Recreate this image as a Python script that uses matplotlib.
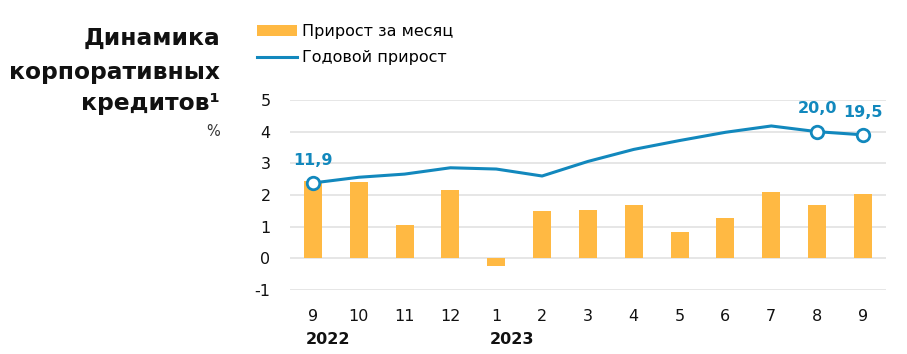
import matplotlib
matplotlib.use('Agg')
import matplotlib.pyplot as plt
from matplotlib.patches import Patch
from matplotlib.lines import Line2D
import matplotlib.transforms as mtransforms

plt.rcParams['font.family'] = ['DejaVu Sans']
plt.rcParams['axes.unicode_minus'] = False

# данные
months = ['9', '10', '11', '12', '1', '2', '3', '4', '5', '6', '7', '8', '9']
monthly = [2.45, 2.42, 1.05, 2.17, -0.25, 1.49, 1.54, 1.68, 0.83, 1.28, 2.10, 1.69, 2.03]
annual = [11.9, 12.8, 13.3, 14.3, 14.1, 13.0, 15.3, 17.2, 18.6, 19.9, 20.9, 20.0, 19.5]
labeled = {0: '11,9', 11: '20,0', 12: '19,5'}
years = [(0, '2022'), (4, '2023')]

BAR = '#FFB943'
BLUE = '#1288BD'

fig = plt.figure(figsize=(9.07, 3.54), dpi=100)
ax = fig.add_axes([0.3197, 0.1808, 0.657, 0.5367])

x = list(range(len(months)))
ax.bar(x, monthly, width=0.39, color=BAR, zorder=2)

# годовой прирост в масштабе левой оси (1 деление = 5 п.п.)
line_y = [v / 5 for v in annual]
ax.plot(x, line_y, color=BLUE, lw=2.2, zorder=3)
for i, txt in labeled.items():
    ax.plot(i, line_y[i], 'o', ms=9, mfc='white', mec=BLUE, mew=2, zorder=4)
    ax.annotate(txt, (i, line_y[i]), xytext=(0, 11), textcoords='offset points',
                ha='center', va='bottom', color=BLUE, fontsize=11.5, fontweight='bold')

ax.set_xlim(-0.5, 12.5)
ax.set_ylim(-1, 5)
ax.set_yticks(range(-1, 6))
ax.set_xticks(x)
ax.set_xticklabels(months)
ax.yaxis.grid(True, color='#e2e2e2', lw=1.2, zorder=0)
for s in ax.spines.values():
    s.set_visible(False)
ax.tick_params(axis='both', length=0, labelsize=11.5, colors='#111111')
ax.tick_params(axis='y', pad=14)
ax.tick_params(axis='x', pad=14)

trans = mtransforms.blended_transform_factory(ax.transData, fig.transFigure)
for i, yr in years:
    ax.text(i - 0.15, 1 - 340 / 354, yr, transform=trans, ha='left', va='center',
            fontsize=11.5, fontweight='bold', color='#111111')

# заголовок
for yy, line in [(38, 'Динамика'), (72, 'корпоративных'), (104, 'кредитов¹')]:
    fig.text(220 / 907, 1 - yy / 354, line, ha='right', va='center',
             fontsize=16.8, fontweight='bold', color='#111111')
fig.text(220 / 907, 1 - 131 / 354, '%', ha='right', va='center',
         fontsize=10.5, color='#333333')

# легенда
handles = [Patch(facecolor=BAR, edgecolor='none'),
           Line2D([], [], color=BLUE, lw=2.2)]
fig.legend(handles, ['Прирост за месяц', 'Годовой прирост'],
           loc='upper left', bbox_to_anchor=(257 / 907, 1 - 24 / 354),
           frameon=False, fontsize=11.5, handlelength=2.5, handletextpad=0.3,
           labelspacing=0.7, borderaxespad=0, borderpad=0)

fig.savefig('out.png', dpi=100)
